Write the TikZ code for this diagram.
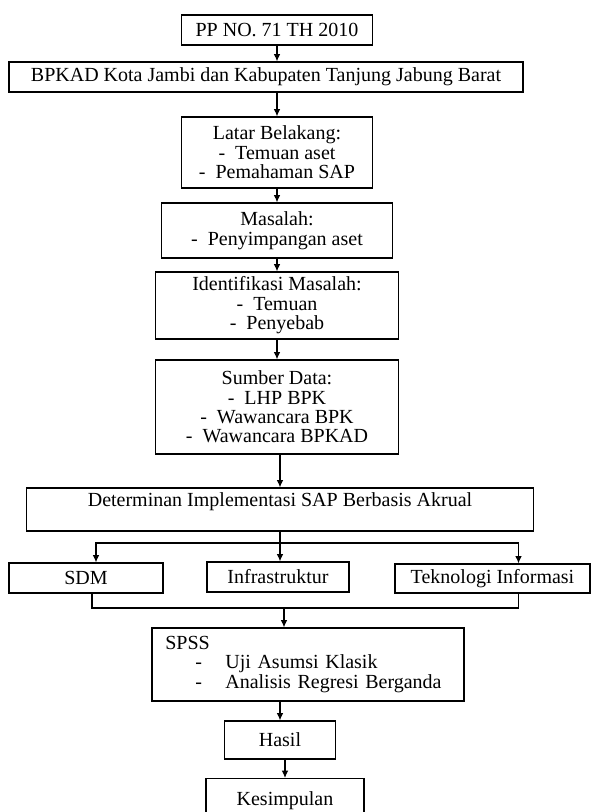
\documentclass[tikz,border=0pt]{standalone}
\usepackage{fontspec}
\setmainfont{Liberation Serif}
\usetikzlibrary{arrows.meta}

\def\itemdash{-~ }

\begin{document}
\begin{tikzpicture}[x=0.75pt,y=-0.75pt,
    box/.style={draw, line width=0.9pt, inner sep=2pt, align=center,
      font=\fontsize{15}{14.6}\selectfont},
    sz/.style 2 args={minimum width=#1*0.75pt, minimum height=#2*0.75pt},
    arr/.style={line width=0.9pt, -{Latex[length=5.5pt,width=5pt]}},
    line/.style={line width=0.9pt}]
    \useasboundingbox (0,0) rectangle (592,812);
    \clip (0,0) rectangle (592,812);

    \node[box, sz={191}{30}] (pp) at (277,30) {PP NO. 71 TH 2010};
    \node[box, sz={514}{30}] (bpkad) at (266,77) {BPKAD Kota Jambi dan Kabupaten Tanjung Jabung Barat};
    \node[box, sz={191}{71}] (latar) at (277,152.5) {Latar Belakang:\\ \itemdash Temuan aset\\ \itemdash Pemahaman SAP};
    \node[box, sz={231}{55}] (masalah) at (277,230.5) {Masalah:\\ \itemdash Penyimpangan aset};
    \node[box, sz={243}{67}] (ident) at (277,305.5) {Identifikasi Masalah:\\ \itemdash Temuan\\ \itemdash Penyebab};
    \node[box, sz={243}{94}] (sumber) at (277,407) {Sumber Data:\\ \itemdash LHP BPK\\ \itemdash Wawancara BPK\\ \itemdash Wawancara BPKAD};
    \node[box, sz={507}{43}] (determ) at (280,509.5) {Determinan Implementasi SAP Berbasis Akrual\\ \mbox{}};

    % the three determinants
    \node[box, sz={154}{30}] (sdm) at (86,578) {SDM};
    \node[box, sz={142}{30}] (infra) at (278,577) {Infrastruktur};
    \node[box, sz={195}{29}] (tekno) at (492.5,578.5) {Teknologi Informasi};

    \node[box, sz={312}{73}, align=left, text width=214pt, inner xsep=9.75pt] (spss) at (308,664.5)
      {SPSS\\ \hspace*{22.5pt}\makebox[22.5pt][l]{-}Uji Asumsi Klasik\\ \hspace*{22.5pt}\makebox[22.5pt][l]{-}Analisis Regresi Berganda};
    \node[box, sz={111}{38}] (hasil) at (280,740) {Hasil};
    \node[box, sz={158}{60}, anchor=north] (kesim) at (285,778) {Kesimpulan\\ \mbox{}};

    \coordinate (split) at (280,543);
    \coordinate (join) at (284,608);

    % straight arrows down the column
    \draw[arr] (pp.south) -- (pp.south |- bpkad.north);
    \foreach \a/\b in {bpkad/latar, latar/masalah, masalah/ident, ident/sumber, sumber/determ, spss/hasil, hasil/kesim}
      \draw[arr] (\b.north |- \a.south) -- (\b.north);

    % Next, the branch to the determinants and the join below them:
    \draw[line] (determ.south) -- (split);
    \draw[arr] (split) -| ([xshift=7.5pt]sdm.north);
    \draw[arr] (split) -- (split |- infra.north);
    \draw[arr] (split) -| ([xshift=19.5pt]tekno.north);
    \draw[line] ([xshift=4.5pt]sdm.south) |- (join) -| ([xshift=19.5pt]tekno.south);
    \draw[arr] (join) -- (join |- spss.north);

\end{tikzpicture}
\end{document}
